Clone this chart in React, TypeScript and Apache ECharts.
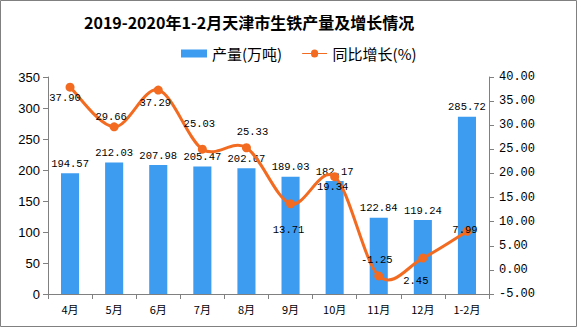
import React, { useEffect, useRef } from "react";
import * as echarts from "echarts";

const titleText = "2019-2020年1-2月天津市生铁产量及增长情况";
const categories = ["4月", "5月", "6月", "7月", "8月", "9月", "10月", "11月", "12月", "1-2月"];
const production = [194.57, 212.03, 207.98, 205.47, 202.67, 189.03, 182.17, 122.84, 119.24, 285.72];
const growth = [37.9, 29.66, 37.29, 25.03, 25.33, 13.71, 19.34, -1.25, 2.45, 7.99];
const growthLabelOffsets: [number, number][] = [
  [-5, 11], [-3, -10], [-3, 13], [-3, -25], [6, -16], [-2, 26], [-2, 10], [-2, -16], [-7, 23], [-2, -1],
];

const BAR = "#3D9CF0";
const LINE = "#F26B21";
const AXIS = "#808080";
const CJK = "'Noto Sans CJK SC', sans-serif";
const MONO = "'Liberation Mono', monospace";

export default function App() {
  const ref = useRef<HTMLDivElement>(null);
  useEffect(() => {
    document.body.style.margin = "0";
    if (!ref.current) return;
    const chart = echarts.init(ref.current, undefined, { renderer: "svg" });
    const n = growth.length;
    chart.setOption({
      animation: false,
      backgroundColor: "#fff",
      title: {
        text: titleText,
        left: 79,
        top: 9,
        textStyle: { fontFamily: CJK, fontSize: 16, fontWeight: "bold", color: "#000" },
      },
      legend: {
        left: 176,
        top: 41,
        itemWidth: 26,
        itemHeight: 8,
        itemGap: 20,
        textStyle: { fontFamily: CJK, fontSize: 15, color: "#000" },
        data: [
          { name: "产量(万吨)", icon: "rect" },
          {
            name: "同比增长(%)",
            icon: "path://M0,4 L10,4 A4,4 0 1 1 18,4 L28,4 L28,5 L18,5 A4,4 0 1 1 10,5 L0,5 Z",
            itemStyle: { color: LINE },
          },
        ],
      },
      grid: { left: 48, right: 88, top: 77, bottom: 33 },
      xAxis: {
        type: "category",
        data: categories,
        axisLine: { lineStyle: { color: AXIS } },
        axisTick: { show: true, alignWithLabel: false, length: 5, lineStyle: { color: AXIS } },
        axisLabel: { color: "#000", fontFamily: CJK, fontSize: 11, margin: 9 },
      },
      yAxis: [
        {
          type: "value",
          min: 0,
          max: 350,
          interval: 50,
          splitLine: { show: false },
          axisLine: { show: true, lineStyle: { color: AXIS } },
          axisTick: { show: true, length: 5, lineStyle: { color: AXIS } },
          axisLabel: { color: "#000", fontFamily: "'Liberation Sans', Arial, sans-serif", fontSize: 13, margin: 8 },
        },
        {
          type: "value",
          min: -5,
          max: 40,
          interval: 5,
          position: "right",
          splitLine: { show: false },
          axisLine: { show: true, lineStyle: { color: AXIS } },
          axisTick: { show: true, length: 5, lineStyle: { color: AXIS } },
          axisLabel: {
            color: "#000",
            fontFamily: MONO,
            fontSize: 12,
            margin: 10,
            formatter: (v: number) => v.toFixed(2),
          },
        },
      ],
      series: [
        {
          name: "产量(万吨)",
          type: "bar",
          data: production,
          barWidth: "41%",
          itemStyle: { color: BAR },
          label: {
            show: true,
            position: "top",
            distance: 4,
            color: "#000",
            fontFamily: MONO,
            fontSize: 10.5,
            formatter: (p: any) => p.value.toFixed(2),
          },
        },
        {
          name: "growthCurve",
          type: "custom",
          yAxisIndex: 1,
          silent: true,
          z: 3,
          data: growth.map((v, i) => [i, v]),
          encode: { x: 0, y: 1 },
          renderItem: (params: any, api: any) => {
            const i = params.dataIndex;
            if (i >= n - 1) return null;
            const pt = (j: number) => {
              const k = Math.max(0, Math.min(n - 1, j));
              return api.coord([k, growth[k]]);
            };
            const p0 = pt(i - 1);
            const p1 = pt(i);
            const p2 = pt(i + 1);
            const p3 = pt(i + 2);
            return {
              type: "bezierCurve",
              shape: {
                x1: p1[0],
                y1: p1[1],
                x2: p2[0],
                y2: p2[1],
                cpx1: p1[0] + (p2[0] - p0[0]) / 6,
                cpy1: p1[1] + (p2[1] - p0[1]) / 6,
                cpx2: p2[0] - (p3[0] - p1[0]) / 6,
                cpy2: p2[1] - (p3[1] - p1[1]) / 6,
              },
              style: { stroke: LINE, lineWidth: 3, fill: "none" },
            };
          },
        },
        {
          name: "同比增长(%)",
          type: "line",
          yAxisIndex: 1,
          symbol: "circle",
          symbolSize: 9,
          z: 4,
          lineStyle: { width: 0, opacity: 0 },
          itemStyle: { color: LINE },
          data: growth.map((v, i) => ({
            value: v,
            label: {
              show: true,
              position: "inside",
              offset: growthLabelOffsets[i],
              color: "#000",
              fontFamily: MONO,
              fontSize: 10.5,
              formatter: (p: any) => p.value.toFixed(2),
            },
          })),
        },
      ],
      graphic: [
        {
          type: "rect",
          shape: { x: 0.5, y: 0.5, width: 576, height: 326 },
          style: { fill: "none", stroke: "#808080", lineWidth: 1 },
          silent: true,
          z: 100,
        },
      ],
    });
    return () => chart.dispose();
  }, []);
  return <div ref={ref} style={{ width: 577, height: 327 }} />;
}
